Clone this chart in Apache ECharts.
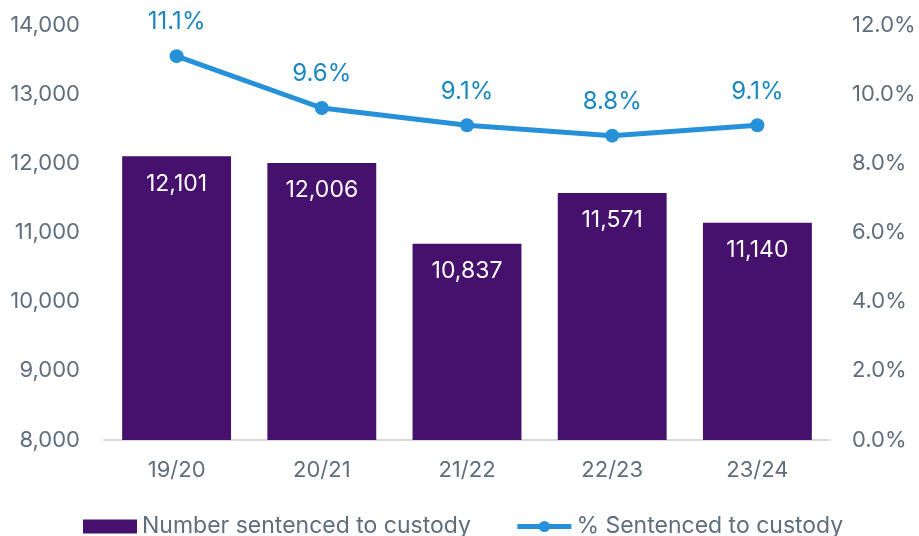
<!DOCTYPE html>
<html>
<head>
<meta charset="utf-8">
<script src="https://cdn.jsdelivr.net/npm/echarts@6/dist/echarts.min.js"></script>
<style>
  html, body { margin: 0; padding: 0; background: #fff; }
  #chart { width: 919px; height: 536px; }
</style>
</head>
<body>
<div id="chart"></div>
<script>
// Custody sentencing chart

const years = ['19/20', '20/21', '21/22', '22/23', '23/24'];
const sentencedCount = [12101, 12006, 10837, 11571, 11140];
const sentencedPct = [11.1, 9.6, 9.1, 8.8, 9.1];

const FONT = 'Inter, "Noto Sans", sans-serif';
const GREY = '#5f6e7c';

const chart = echarts.init(document.getElementById('chart'));

chart.setOption({
  animation: false,
  textStyle: { fontFamily: FONT },
  grid: {
    left: 104,
    right: 89,
    top: 25,
    bottom: 96
  },
  legend: {
    top: 510,
    left: 78,
    itemGap: 44,
    itemWidth: 54,
    itemHeight: 14,
    textStyle: { color: GREY, fontSize: 23, fontFamily: FONT },
    data: [
      { name: 'Number sentenced to custody', icon: 'rect' },
      { name: '% Sentenced to custody', lineStyle: { width: 5 } }
    ]
  },
  xAxis: {
    type: 'category',
    data: years,
    axisLine: { lineStyle: { color: '#d6dadf', width: 2 } },
    axisTick: { show: false },
    axisLabel: { color: GREY, fontSize: 22, margin: 19 }
  },
  yAxis: [
    {
      type: 'value',
      min: 8000,
      max: 14000,
      interval: 1000,
      splitLine: { show: false },
      axisLabel: {
        color: GREY,
        fontSize: 22,
        margin: 24,
        formatter: v => v.toLocaleString('en-US')
      }
    },
    {
      type: 'value',
      min: 0,
      max: 12,
      interval: 2,
      splitLine: { show: false },
      axisLabel: {
        color: GREY,
        fontSize: 22,
        margin: 22,
        formatter: v => v.toFixed(1) + '%'
      }
    }
  ],
  series: [
    {
      name: 'Number sentenced to custody',
      type: 'bar',
      data: sentencedCount,
      barWidth: '75%',
      itemStyle: { color: '#45116c' },
      label: {
        show: true,
        position: 'insideTop',
        distance: 16,
        color: '#fff',
        fontSize: 23,
        formatter: p => p.value.toLocaleString('en-US')
      }
    },
    {
      name: '% Sentenced to custody',
      type: 'line',
      yAxisIndex: 1,
      data: sentencedPct,
      symbol: 'circle',
      symbolSize: 14,
      lineStyle: { color: '#2690d8', width: 5 },
      itemStyle: { color: '#2690d8' },
      label: {
        show: true,
        position: 'top',
        distance: 15,
        color: '#1a88c0',
        fontSize: 24,
        formatter: p => p.value.toFixed(1) + '%'
      }
    }
  ]
});

window.addEventListener('resize', () => chart.resize());
</script>
</body>
</html>
